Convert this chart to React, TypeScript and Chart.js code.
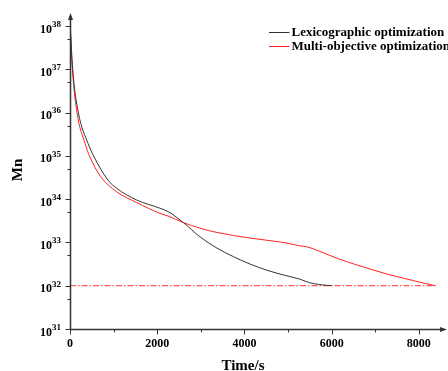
import React, { useEffect, useRef } from "react";
import { Chart, registerables } from "chart.js";

Chart.register(...registerables);

// ---- data ----
const lexTime = [0, 62, 192, 413, 540, 872, 1071, 1530, 2064, 2294, 2431, 2600, 2980, 3370, 3750, 4130, 4510, 4890, 5280, 5500, 5890, 6000];
const lexMn = [1.26e38, 1.0e37, 1.0e36, 1.95e35, 1.0e35, 2.75e34, 1.78e34, 9.55e33, 6.17e33, 4.9e33, 3.89e33, 2.88e33, 1.35e33, 7.41e32, 4.68e32, 3.16e32, 2.29e32, 1.78e32, 1.41e32, 1.17e32, 1.02e32, 1e32];

const moTime = [0, 55, 160, 344, 445, 704, 1071, 1530, 2064, 2248, 2600, 2980, 3370, 4130, 4890, 5046, 5275, 5430, 5810, 6190, 6580, 7340, 8370];
const moMn = [1.12e38, 1.0e37, 1.0e36, 1.95e35, 1.0e35, 3.31e34, 1.48e34, 8.32e33, 4.68e33, 4.07e33, 2.88e33, 2.14e33, 1.7e33, 1.26e33, 1.0e33, 9.33e32, 8.32e32, 7.94e32, 5.75e32, 4.07e32, 3.02e32, 1.78e32, 1.0e32];

const refTime = [0, 8390];
const refMn = [1e32, 1e32];

const seriesNames = ["Lexicographic optimization", "Multi-objective optimization"];
const xMajorTicks = [0, 2000, 4000, 6000, 8000];
const xMinorTicks = [1000, 3000, 5000, 7000];
const yTickExponents = [31, 32, 33, 34, 35, 36, 37, 38];
const yMinorTicks = [5e31, 5e32, 5e33, 5e34, 5e35, 5e36, 5e37];
const xTitle = "Time/s";
const yTitle = "Mn";

const FONT = "'Liberation Serif', 'Times New Roman', serif";
const BLACK = "#333";
const RED = "#ff2020";

const axesPlugin = {
  id: "customAxes",
  afterDraw(chart: any) {
    const ctx = chart.ctx;
    const area = chart.chartArea;
    const xs = chart.scales.x;
    const ys = chart.scales.y;
    const axisColor = "#333";
    const x0 = Math.round(area.left) + 0.5;
    const y0 = Math.round(area.bottom) + 0.5;
    ctx.save();
    ctx.strokeStyle = axisColor;
    ctx.fillStyle = axisColor;
    ctx.lineWidth = 1.5;
    // y axis
    ctx.beginPath();
    ctx.moveTo(x0, y0);
    ctx.lineTo(x0, area.top + 3);
    ctx.stroke();
    ctx.beginPath();
    ctx.moveTo(x0, area.top);
    ctx.lineTo(x0 - 2.5, area.top + 7);
    ctx.lineTo(x0 + 2.5, area.top + 7);
    ctx.closePath();
    ctx.fill();
    // x axis
    ctx.beginPath();
    ctx.moveTo(x0, y0);
    ctx.lineTo(area.right - 2, y0);
    ctx.stroke();
    ctx.beginPath();
    ctx.moveTo(area.right + 2, y0);
    ctx.lineTo(area.right - 5, y0 - 2.5);
    ctx.lineTo(area.right - 5, y0 + 2.5);
    ctx.closePath();
    ctx.fill();

    ctx.lineWidth = 1;
    yTickExponents.forEach((e) => {
      const py = Math.round(ys.getPixelForValue(Math.pow(10, e))) + 0.5;
      ctx.beginPath();
      ctx.moveTo(x0 - 5, py);
      ctx.lineTo(x0, py);
      ctx.stroke();
    });
    yMinorTicks.forEach((v) => {
      const py = Math.round(ys.getPixelForValue(v)) + 0.5;
      ctx.beginPath();
      ctx.moveTo(x0 - 3, py);
      ctx.lineTo(x0, py);
      ctx.stroke();
    });
    xMajorTicks.forEach((v) => {
      const px = Math.round(xs.getPixelForValue(v)) + 0.5;
      ctx.beginPath();
      ctx.moveTo(px, y0);
      ctx.lineTo(px, y0 + 5);
      ctx.stroke();
    });
    xMinorTicks.forEach((v) => {
      const px = Math.round(xs.getPixelForValue(v)) + 0.5;
      ctx.beginPath();
      ctx.moveTo(px, y0);
      ctx.lineTo(px, y0 + 3);
      ctx.stroke();
    });

    // y labels
    ctx.fillStyle = "#000";
    ctx.textBaseline = "middle";
    yTickExponents.forEach((e) => {
      const py = ys.getPixelForValue(Math.pow(10, e));
      const right = x0 - 9.5;
      ctx.font = `bold 9px ${FONT}`;
      ctx.textAlign = "right";
      const sup = String(e);
      const sw = ctx.measureText(sup).width;
      ctx.fillText(sup, right, py - 1.5);
      ctx.font = `bold 12px ${FONT}`;
      ctx.fillText("10", right - sw, py + 3.5);
    });
    // x labels
    ctx.font = `bold 12px ${FONT}`;
    ctx.textAlign = "center";
    xMajorTicks.forEach((v) => {
      const px = xs.getPixelForValue(v);
      ctx.fillText(String(v), px, 344);
    });
    // titles
    ctx.font = `bold 15px ${FONT}`;
    ctx.textBaseline = "alphabetic";
    ctx.fillText(xTitle, 243, 370);
    ctx.save();
    ctx.translate(22, 170);
    ctx.rotate(-Math.PI / 2);
    ctx.textAlign = "center";
    ctx.fillText(yTitle, 0, 0);
    ctx.restore();

    // legend
    const legendColors = [BLACK, RED];
    const legendY = [32.5, 46.5];
    ctx.font = `bold 13px ${FONT}`;
    ctx.textAlign = "left";
    ctx.textBaseline = "middle";
    seriesNames.forEach((name, i) => {
      ctx.strokeStyle = legendColors[i];
      ctx.lineWidth = 1;
      ctx.beginPath();
      ctx.moveTo(269, legendY[i]);
      ctx.lineTo(289.5, legendY[i]);
      ctx.stroke();
      ctx.fillStyle = "#000";
      ctx.fillText(name, 291.5, legendY[i]);
    });
    ctx.restore();
  },
};

export default function App() {
  const ref = useRef<HTMLCanvasElement>(null);
  useEffect(() => {
    const canvas = ref.current!;
    const chart = new Chart(canvas, {
      type: "line",
      data: {
        datasets: [
          {
            label: seriesNames[0],
            data: lexTime.map((t, i) => ({ x: t, y: lexMn[i] })),
            borderColor: BLACK,
            borderWidth: 1,
            pointRadius: 0,
            cubicInterpolationMode: "monotone",
            fill: false,
          },
          {
            label: seriesNames[1],
            data: moTime.map((t, i) => ({ x: t, y: moMn[i] })),
            borderColor: RED,
            borderWidth: 1,
            pointRadius: 0,
            cubicInterpolationMode: "monotone",
            fill: false,
          },
          {
            label: "reference",
            data: refTime.map((t, i) => ({ x: t, y: refMn[i] })),
            borderColor: "#ff3030",
            borderWidth: 1,
            borderDash: [6, 2, 1.5, 2],
            pointRadius: 0,
            fill: false,
          },
        ],
      },
      options: {
        responsive: false,
        animation: false,
        devicePixelRatio: 1,
        layout: { padding: { left: 70, right: 3, top: 13, bottom: 42 } },
        plugins: {
          legend: { display: false },
          title: { display: false },
          tooltip: { enabled: false },
        },
        scales: {
          x: { type: "linear", min: 0, max: 8600, display: false },
          y: { type: "logarithmic", min: 1e31, max: 2e38, display: false },
        },
      },
      plugins: [axesPlugin],
    } as any);
    return () => chart.destroy();
  }, []);
  return (
    <div style={{ position: "fixed", left: 0, top: 0, width: 448, height: 371, background: "#fff" }}>
      <canvas ref={ref} width={448} height={371} style={{ width: 448, height: 371, display: "block" }} />
    </div>
  );
}
